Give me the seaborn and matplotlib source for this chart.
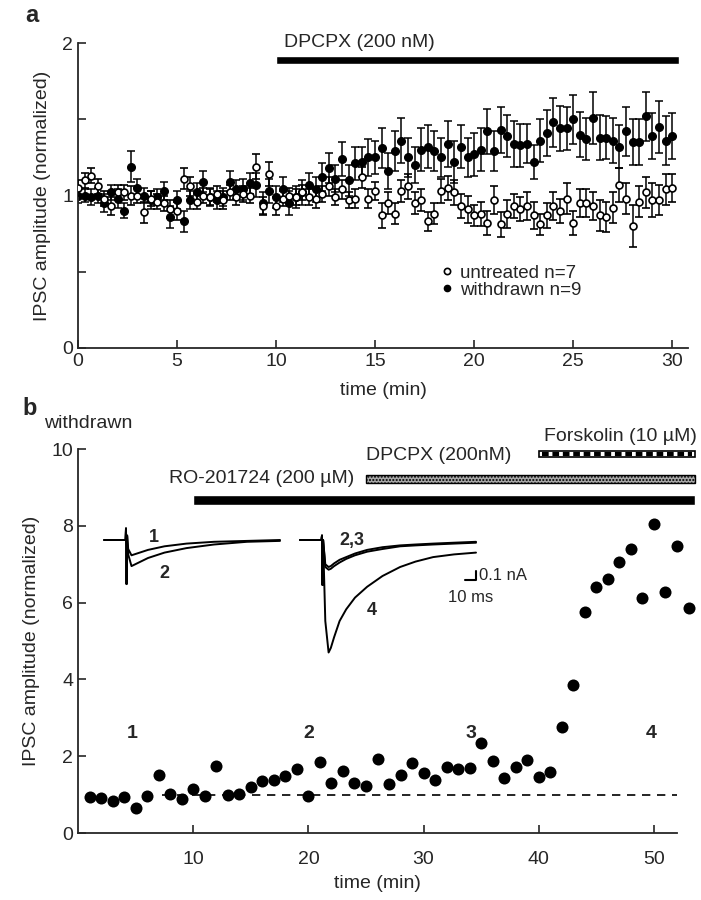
import numpy as np
import pandas as pd
import matplotlib
matplotlib.use('Agg')
import matplotlib.pyplot as plt
import seaborn as sns

# ---- panel a: normalized IPSC amplitude, one point every 20 s ----
time_a = np.arange(91) / 3.0
withdrawn = [1.00, 1.00, 0.99, 1.00, 0.95, 1.02, 0.98, 0.90, 1.19, 1.05,
             1.00, 0.97, 0.99, 1.03, 0.86, 0.97, 0.83, 0.97, 1.02, 1.09,
             0.99, 0.97, 0.99, 1.09, 1.04, 1.04, 1.08, 1.07, 0.95, 1.03,
             0.99, 1.04, 0.95, 0.99, 1.02, 1.07, 1.04, 1.12, 1.18, 1.11,
             1.24, 1.10, 1.21, 1.22, 1.25, 1.25, 1.31, 1.16, 1.29, 1.36,
             1.25, 1.20, 1.30, 1.32, 1.29, 1.25, 1.34, 1.22, 1.32, 1.25,
             1.27, 1.30, 1.42, 1.29, 1.43, 1.39, 1.34, 1.33, 1.34, 1.22,
             1.36, 1.41, 1.48, 1.44, 1.44, 1.50, 1.40, 1.37, 1.51, 1.38,
             1.38, 1.36, 1.32, 1.42, 1.35, 1.35, 1.52, 1.39, 1.45, 1.36,
             1.39]
withdrawn_err = [0.05, 0.04, 0.05, 0.05, 0.06, 0.05, 0.06, 0.05, 0.10, 0.06,
                 0.05, 0.06, 0.05, 0.06, 0.07, 0.06, 0.07, 0.06, 0.06, 0.07,
                 0.06, 0.06, 0.06, 0.07, 0.06, 0.07, 0.07, 0.08, 0.07, 0.08,
                 0.07, 0.08, 0.08, 0.07, 0.08, 0.08, 0.08, 0.09, 0.10, 0.09,
                 0.11, 0.10, 0.11, 0.10, 0.12, 0.11, 0.13, 0.12, 0.13, 0.15,
                 0.13, 0.12, 0.14, 0.14, 0.13, 0.13, 0.15, 0.14, 0.14, 0.13,
                 0.14, 0.14, 0.15, 0.13, 0.15, 0.14, 0.15, 0.14, 0.13, 0.11,
                 0.14, 0.15, 0.16, 0.15, 0.14, 0.16, 0.15, 0.14, 0.17, 0.15,
                 0.14, 0.15, 0.14, 0.16, 0.15, 0.15, 0.16, 0.15, 0.17, 0.16,
                 0.15]
untreated = [1.05, 1.10, 1.13, 1.06, 0.98, 0.93, 1.02, 1.02, 1.00, 1.00,
             0.89, 0.98, 0.96, 0.95, 0.91, 0.90, 1.11, 1.06, 0.96, 1.00,
             0.99, 1.01, 0.97, 1.02, 0.99, 1.01, 1.00, 1.19, 0.93, 1.14,
             0.93, 0.98, 1.00, 0.99, 1.02, 0.99, 0.98, 1.01, 1.06, 0.99,
             1.04, 0.97, 0.98, 1.12, 0.98, 1.03, 0.87, 0.95, 0.88, 1.03,
             1.06, 0.95, 0.97, 0.83, 0.88, 1.03, 1.05, 1.02, 0.93, 0.91,
             0.87, 0.88, 0.82, 0.97, 0.81, 0.88, 0.93, 0.91, 0.93, 0.87,
             0.81, 0.87, 0.93, 0.90, 0.98, 0.82, 0.95, 0.95, 0.93, 0.87,
             0.86, 0.92, 1.07, 0.98, 0.80, 0.96, 1.02, 0.97, 0.97, 1.04,
             1.05]
untreated_err = [0.05, 0.05, 0.05, 0.05, 0.05, 0.06, 0.05, 0.05, 0.06, 0.05,
                 0.07, 0.05, 0.05, 0.05, 0.06, 0.06, 0.07, 0.06, 0.05, 0.05,
                 0.05, 0.05, 0.06, 0.05, 0.05, 0.05, 0.05, 0.08, 0.06, 0.08,
                 0.06, 0.05, 0.05, 0.05, 0.05, 0.05, 0.06, 0.05, 0.06, 0.05,
                 0.06, 0.05, 0.06, 0.07, 0.06, 0.06, 0.08, 0.07, 0.07, 0.07,
                 0.08, 0.07, 0.07, 0.06, 0.07, 0.08, 0.08, 0.08, 0.08, 0.09,
                 0.07, 0.08, 0.08, 0.09, 0.08, 0.09, 0.08, 0.08, 0.09, 0.09,
                 0.07, 0.08, 0.09, 0.08, 0.10, 0.08, 0.09, 0.09, 0.09, 0.10,
                 0.10, 0.10, 0.11, 0.10, 0.14, 0.10, 0.10, 0.11, 0.10, 0.10,
                 0.09]

# ---- panel b: single withdrawn cell, one point per minute ----
time_b = np.arange(1, 54)
cell = [0.93, 0.90, 0.84, 0.95, 0.66, 0.97, 1.51, 1.02, 0.88, 1.15,
        0.96, 1.74, 0.99, 1.02, 1.20, 1.35, 1.38, 1.48, 1.66, 0.96,
        1.85, 1.30, 1.61, 1.30, 1.22, 1.93, 1.27, 1.51, 1.82, 1.56,
        1.38, 1.72, 1.67, 1.69, 2.35, 1.88, 1.43, 1.72, 1.90, 1.46,
        1.59, 2.75, 3.85, 5.75, 6.40, 6.61, 7.07, 7.39, 6.13, 8.05,
        6.28, 7.47, 5.87]
trace_labels = ['1', '2', '3', '4']
trace_label_times = [4.7, 20.0, 34.1, 49.8]

# drug applications (min)
drugs_b = ['RO-201724 (200 \u00b5M)', 'DPCPX (200nM)', 'Forskolin (10 \u00b5M)']
drug_start_b = [10, 25, 40]
drug_end_b = [53.6, 53.6, 53.6]
drug_a = 'DPCPX (200 nM)'
drug_start_a, drug_end_a = 10, 30.35

# example IPSC traces (ms, nA)
t_tr = [0, 19.5, 20, 20.5, 21, 22, 25, 30, 40, 55, 75, 100, 130, 160]
tr1 = [0, 0, 0.13, -0.49, 0.05, -0.10, -0.17, -0.15, -0.11, -0.07, -0.04, -0.02, -0.01, 0]
tr2 = [0, 0, 0.13, -0.49, 0.05, -0.16, -0.29, -0.26, -0.20, -0.14, -0.09, -0.05, -0.02, -0.01]
t_tr4 = [0, 19.5, 20, 20.5, 21, 23, 26, 28, 31, 36, 42, 50, 61, 75, 91, 105, 121, 140, 160]
tr2b = [0, 0, 0.05, -0.50, 0.0, -0.30, -0.33, -0.32, -0.29, -0.25, -0.21, -0.17, -0.13, -0.10,
        -0.07, -0.06, -0.05, -0.04, -0.03]
tr3 = [0, 0, 0.05, -0.50, 0.0, -0.27, -0.30, -0.29, -0.26, -0.22, -0.19, -0.15, -0.11, -0.08,
       -0.06, -0.05, -0.04, -0.03, -0.02]
tr4 = [0, 0, 0.05, -0.50, 0.0, -0.90, -1.25, -1.20, -1.08, -0.90, -0.77, -0.64, -0.52, -0.40,
       -0.30, -0.24, -0.19, -0.16, -0.14]
scale_ms, scale_na = 10, 0.1

sns.set_style('ticks')
plt.rcParams['font.family'] = ['Liberation Sans', 'DejaVu Sans']
plt.rcParams['font.size'] = 14
plt.rcParams['axes.linewidth'] = 1.3
plt.rcParams['xtick.direction'] = 'in'
plt.rcParams['ytick.direction'] = 'in'
plt.rcParams['xtick.major.size'] = 6
plt.rcParams['ytick.major.size'] = 6
plt.rcParams['xtick.major.width'] = 1.2
plt.rcParams['ytick.major.width'] = 1.2

W, H = 701, 900
fig = plt.figure(figsize=(7.01, 9), dpi=100)

def px_axes(x0, y_bottom, w, h):
    return fig.add_axes([x0 / W, 1 - y_bottom / H, w / W, h / H])

# ---------------- panel a ----------------
ax = px_axes(78, 348, 610, 305)
ax.errorbar(time_a, withdrawn, yerr=withdrawn_err, fmt='o', color='black',
            ms=5.5, elinewidth=1.1, capsize=3, capthick=1.1, zorder=2)
ax.errorbar(time_a, untreated, yerr=untreated_err, fmt='o', color='black', mfc='white',
            mec='black', mew=1.2, ms=5, elinewidth=1.1, capsize=3, capthick=1.1, zorder=3)
ax.set_xlim(0, 30.8)
ax.set_ylim(0, 2)
ax.set_xticks([0, 5, 10, 15, 20, 25, 30])
ax.set_yticks([0, 0.5, 1, 1.5, 2])
ax.set_yticklabels(['0', '', '1', '', '2'])
ax.set_xlabel('time (min)', labelpad=9)
ax.set_ylabel('IPSC amplitude (normalized)', labelpad=8)
sns.despine(ax=ax)
ax.spines['left'].set_bounds(0, 2)

ax.barh(1.89, drug_end_a - drug_start_a, left=drug_start_a, height=0.05,
        color='black', clip_on=False)
ax.text(10.4, 1.95, drug_a, fontsize=14, va='bottom')

ax.plot([], [], 'o', color='black', mfc='white', mew=1.2, ms=4.5, label='untreated n=7')
ax.plot([], [], 'o', color='black', ms=4.5, label='withdrawn n=9')
h, l = ax.get_legend_handles_labels()
ax.legend(h[-2:], l[-2:], loc='lower left', bbox_to_anchor=(0.58, 0.13), frameon=False,
          handlelength=0.6, handletextpad=0.4, labelspacing=0.0, fontsize=13.5,
          borderpad=0)
fig.text(25 / W, 1 - 15 / H, 'a', fontsize=17, fontweight='bold', va='center')

# ---------------- panel b ----------------
axb = px_axes(78, 833, 599, 384)
dfb = pd.DataFrame({'time': time_b, 'amp': cell})
sns.scatterplot(data=dfb, x='time', y='amp', color='black', s=75, edgecolor='black',
                linewidth=0, ax=axb, zorder=3, clip_on=False)
axb.hlines(1, 7.3, 52.5, colors='black', linestyles=(0, (5, 4)), linewidth=1.2)
axb.set_xlim(0, 52)
axb.set_ylim(0, 10)
axb.set_xticks([10, 20, 30, 40, 50])
axb.set_yticks([0, 2, 4, 6, 8, 10])
axb.tick_params(axis='x', pad=13)
axb.set_xlabel('time (min)', labelpad=5)
axb.set_ylabel('IPSC amplitude (normalized)', labelpad=8)
sns.despine(ax=axb)

for lab, t in zip(trace_labels, trace_label_times):
    axb.text(t, 2.6, lab, fontsize=14, fontweight='bold', ha='center', va='center')

bar_y = [8.67, 9.22, 9.87]
bar_h = [0.26, 0.2, 0.18]
axb.barh(bar_y[0], drug_end_b[0] - drug_start_b[0], left=drug_start_b[0], height=bar_h[0],
         color='black', clip_on=False)
axb.barh(bar_y[1], drug_end_b[1] - drug_start_b[1], left=drug_start_b[1], height=bar_h[1],
         color='#a8a8a8', edgecolor='black', linewidth=1, hatch='.....', clip_on=False)
axb.barh(bar_y[2], drug_end_b[2] - drug_start_b[2], left=drug_start_b[2], height=bar_h[2],
         color='white', edgecolor='black', linewidth=1.2, clip_on=False)
axb.hlines(bar_y[2], drug_start_b[2] + 0.3, drug_end_b[2] - 0.3, colors='black',
           linewidth=3, linestyles=(0, (1.6, 0.9)), clip_on=False)
axb.text(drug_start_b[1] - 1.0, bar_y[1], drugs_b[0], ha='right', va='center', fontsize=14)
axb.text(drug_start_b[1], bar_y[2] - 0.03, drugs_b[1], ha='left', va='center', fontsize=14)
axb.text(53.7, 10.33, drugs_b[2], ha='right', va='center', fontsize=14)
fig.text(22 / W, 1 - 408 / H, 'b', fontsize=17, fontweight='bold', va='center')
fig.text(44 / W, 1 - 423 / H, 'withdrawn', fontsize=14, va='center')

# trace labels
axb.text(6.6, 7.7, '1', fontsize=13, fontweight='bold', ha='center', va='center')
axb.text(7.5, 6.77, '2', fontsize=13, fontweight='bold', ha='center', va='center')
axb.text(23.8, 7.63, '2,3', fontsize=13, fontweight='bold', ha='center', va='center')
axb.text(25.5, 5.8, '4', fontsize=13, fontweight='bold', ha='center', va='center')

# inset traces, 1.1 px per ms and 90 px per nA
ins1 = px_axes(104, 540 + 0.55 * 90, 176, 0.75 * 90)
ins1.plot(t_tr, tr1, color='black', lw=1.4)
ins1.plot(t_tr, tr2, color='black', lw=1.4)
ins1.set_xlim(0, 160)
ins1.set_ylim(-0.55, 0.2)
ins1.axis('off')

ins2 = px_axes(300, 540 + 1.35 * 90, 176, 1.55 * 90)
ins2.plot(t_tr4, tr2b, color='black', lw=1.4)
ins2.plot(t_tr4, tr3, color='black', lw=1.4)
ins2.plot(t_tr4, tr4, color='black', lw=1.4)
ins2.plot([160 - scale_ms, 160, 160], [-0.44, -0.44, -0.44 + scale_na], color='black', lw=1.5,
          clip_on=False)
ins2.text(163, -0.39, '%.1f nA' % scale_na, fontsize=12, va='center', ha='left')
ins2.text(155, -0.64, '%d ms' % scale_ms, fontsize=12, va='center', ha='center')
ins2.set_xlim(0, 160)
ins2.set_ylim(-1.35, 0.2)
ins2.axis('off')
for a in (ins1, ins2):
    for c in a.get_children():
        if hasattr(c, 'set_clip_on'):
            c.set_clip_on(False)

fig.savefig('out.png', dpi=100)
